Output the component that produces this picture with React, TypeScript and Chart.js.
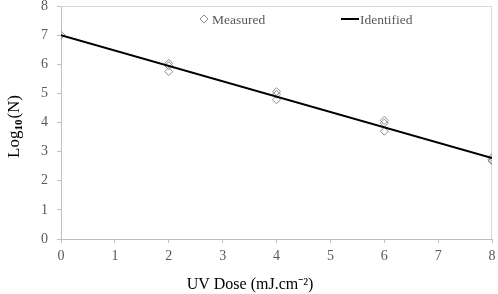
import React, { useEffect, useRef } from "react";
import { Chart, registerables } from "chart.js";

Chart.register(...registerables);

const doseLevels = [0, 2, 2, 2, 4, 4, 4, 6, 6, 6, 8, 8, 8];
const measuredLog = [7.0, 6.03, 5.95, 5.75, 5.06, 4.97, 4.78, 4.07, 3.98, 3.7, 2.8, 2.72, 2.68];
const identifiedDose = [0, 8];
const identifiedLog = [7.0, 2.78];
const xTicks = [0, 1, 2, 3, 4, 5, 6, 7, 8];
const yTicks = [0, 1, 2, 3, 4, 5, 6, 7, 8];
const legendLabels = ["Measured", "Identified"];
const xTitle = "UV Dose (mJ.cm⁻²)";
const yTitleParts = ["Log", "10", "(N)"];

const FONT = "'Liberation Serif', 'Times New Roman', serif";

const framePlugin = {
  id: "frame",
  beforeDatasetsDraw(chart: any) {
    const { ctx, chartArea } = chart;
    ctx.save();
    ctx.strokeStyle = "#d9d9d9";
    ctx.lineWidth = 1;
    ctx.beginPath();
    ctx.moveTo(chartArea.left, chartArea.top + 0.5);
    ctx.lineTo(chartArea.right - 0.5, chartArea.top + 0.5);
    ctx.lineTo(chartArea.right - 0.5, chartArea.bottom);
    ctx.stroke();
    ctx.restore();
  },
  afterDraw(chart: any) {
    const { ctx, chartArea } = chart;
    ctx.save();
    const y = chartArea.top + 13;
    // Measured marker
    const mx = 204;
    ctx.strokeStyle = "#8c8c8c";
    ctx.lineWidth = 1;
    ctx.beginPath();
    ctx.moveTo(mx, y - 4);
    ctx.lineTo(mx + 4, y);
    ctx.lineTo(mx, y + 4);
    ctx.lineTo(mx - 4, y);
    ctx.closePath();
    ctx.stroke();
    ctx.font = "13.5px " + FONT;
    ctx.fillStyle = "#595959";
    ctx.textBaseline = "middle";
    ctx.textAlign = "left";
    ctx.fillText(legendLabels[0], 212, y + 1);
    // Identified line
    ctx.strokeStyle = "#000";
    ctx.lineWidth = 2;
    ctx.beginPath();
    ctx.moveTo(341, y);
    ctx.lineTo(359, y);
    ctx.stroke();
    ctx.fillText(legendLabels[1], 360, y + 1);

    // X title
    ctx.fillStyle = "#000";
    ctx.font = "16px " + FONT;
    ctx.textAlign = "center";
    ctx.textBaseline = "middle";
    ctx.fillText(xTitle, 250, 285);

    // Y title with subscript
    ctx.translate(12.5, 126.5);
    ctx.rotate(-Math.PI / 2);
    const big = "17px " + FONT;
    const small = "bold 11px " + FONT;
    ctx.font = big;
    const w1 = ctx.measureText(yTitleParts[0]).width;
    const w3 = ctx.measureText(yTitleParts[2]).width;
    ctx.font = small;
    const w2 = ctx.measureText(yTitleParts[1]).width;
    const total = w1 + w2 + 1 + w3;
    let x0 = -total / 2;
    ctx.textAlign = "left";
    ctx.textBaseline = "alphabetic";
    const base = 6;
    ctx.font = big;
    ctx.fillText(yTitleParts[0], x0, base);
    x0 += w1;
    ctx.font = small;
    ctx.fillText(yTitleParts[1], x0, base + 3);
    x0 += w2 + 1;
    ctx.font = big;
    ctx.fillText(yTitleParts[2], x0, base);
    ctx.restore();
  },
};

export default function App() {
  const ref = useRef<HTMLCanvasElement>(null);
  useEffect(() => {
    if (!ref.current) return;
    const chart = new Chart(ref.current, {
      type: "scatter",
      data: {
        datasets: [
          {
            type: "line",
            label: legendLabels[1],
            data: identifiedDose.map((x, i) => ({ x, y: identifiedLog[i] })),
            borderColor: "#000",
            borderWidth: 2,
            pointRadius: 0,
            fill: false,
            order: 1,
          } as any,
          {
            type: "scatter",
            label: legendLabels[0],
            data: doseLevels.map((x, i) => ({ x, y: measuredLog[i] })),
            pointStyle: "rectRot",
            pointRadius: 4,
            borderColor: "#8c8c8c",
            backgroundColor: "rgba(255,255,255,0)",
            borderWidth: 1,
            order: 2,
          } as any,
        ],
      },
      options: {
        animation: false,
        responsive: true,
        maintainAspectRatio: false,
        layout: { padding: { top: 6, right: 6, left: 0, bottom: 0 } },
        plugins: {
          legend: { display: false },
          tooltip: { enabled: false },
        },
        scales: {
          x: {
            type: "linear",
            min: 0,
            max: 8,
            afterBuildTicks: (s: any) => {
              s.ticks = xTicks.map((v) => ({ value: v }));
            },
            afterFit: (s: any) => {
              s.height = 55;
              s.paddingLeft = 0;
              s.paddingRight = 0;
            },
            grid: {
              drawOnChartArea: false,
              drawTicks: true,
              tickLength: 4,
              color: "#bfbfbf",
            },
            border: { display: true, color: "#bfbfbf" },
            ticks: {
              color: "#595959",
              font: { family: FONT, size: 14 },
              padding: 5,
              maxRotation: 0,
            },
          },
          y: {
            type: "linear",
            min: 0,
            max: 8,
            afterBuildTicks: (s: any) => {
              s.ticks = yTicks.map((v) => ({ value: v }));
            },
            afterFit: (s: any) => {
              s.width = 61;
              s.paddingTop = 0;
              s.paddingBottom = 0;
            },
            grid: {
              drawOnChartArea: false,
              drawTicks: true,
              tickLength: 4,
              color: "#bfbfbf",
            },
            border: { display: true, color: "#bfbfbf" },
            ticks: {
              color: "#595959",
              font: { family: FONT, size: 14 },
              padding: 9,
            },
          },
        },
      } as any,
      plugins: [framePlugin],
    });
    return () => chart.destroy();
  }, []);
  return (
    <div style={{ position: "fixed", left: 0, top: 0, width: 498, height: 294, background: "#fff" }}>
      <canvas ref={ref} />
    </div>
  );
}
